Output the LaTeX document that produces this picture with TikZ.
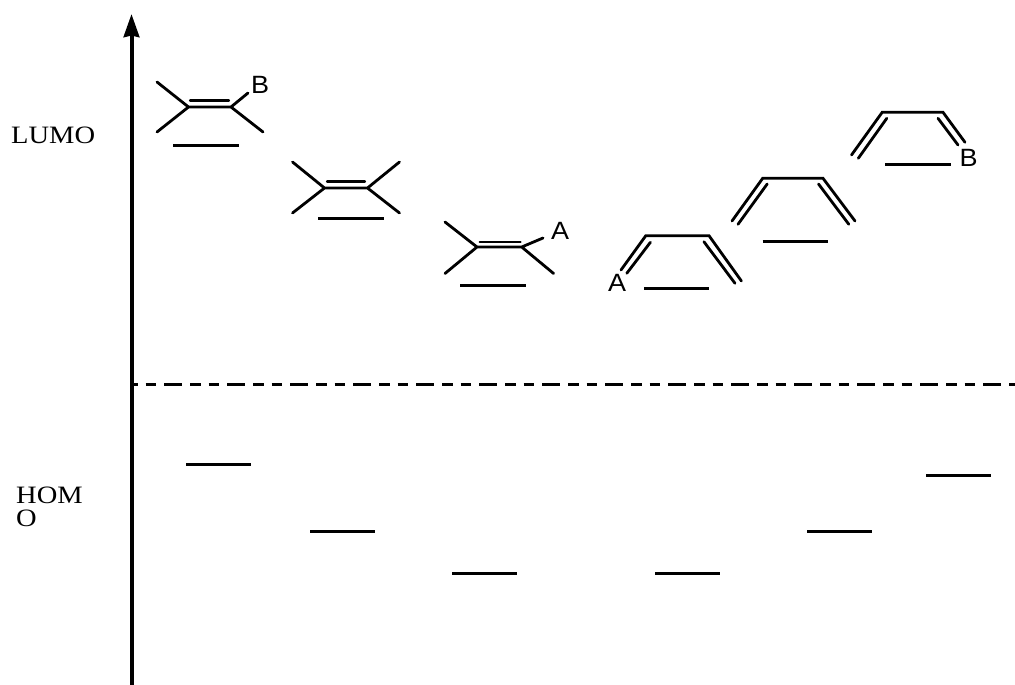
\documentclass[tikz,border=0pt]{standalone}
\usepackage{fontspec}
\setmainfont{Liberation Serif}
\newfontfamily\lsans{Liberation Sans}
\usetikzlibrary{arrows.meta}
\tikzset{
  bond/.style={line width=2.8pt,line cap=round,line join=miter},
  thinbond/.style={line width=2.2pt,line cap=round},
  level/.style={line width=2.8pt},
  axisline/.style={line width=4pt,-{Stealth[length=23pt,width=15.5pt,inset=1.5pt]}},
  dashline/.style={line width=2.8pt,dash pattern=on 10.5pt off 8pt on 10.5pt off 8pt on 18pt off 8pt,dash phase=7pt},
  serif/.style={inner sep=0pt,xscale=1.14,font=\fontsize{25}{23}\selectfont,align=left},
  sub/.style={inner sep=0pt,xscale=1.08,font=\lsans\fontsize{25}{25}\selectfont}
}
\begin{document}
\begin{tikzpicture}[x=1pt,y=-1pt]
\useasboundingbox (0,0) rectangle (1015,685);
\draw[axisline] (131.5,685) -- (131.5,14);
\draw[dashline] (134,384.7) -- (1015,384.7);
% ethylenes
\draw[bond] (157,82) -- (188.5,107) -- (157,132) (188.5,107) -- (231,107) (248,93) -- (231,107) -- (263,132);
\draw[thinbond] (190,100.5) -- (229,100.5);
\draw[bond] (292.5,162) -- (324.5,188) -- (292.5,213) (324.5,188) -- (367.5,188) (399.5,162) -- (367.5,188) -- (399.5,213);
\draw[thinbond] (327,181.5) -- (365,181.5);
\draw[bond] (445,222) -- (477,247) -- (445,273.5) (477,247) -- (521.7,247) (543,238) -- (521.7,247) -- (553.6,273.5);
\draw[thinbond] (479.6,241.7) -- (520.6,241.7);
% dienes
\draw[bond] (621,270) -- (645.8,235.7) -- (709,235.7) -- (741.4,281) (650.4,242.3) -- (626.8,273.3) (703.9,241.7) -- (735,283.3);
\draw[bond] (732,221) -- (762.7,178.3) -- (823,178.3) -- (855,221) (767.2,184) -- (738,224.3) (818.5,184) -- (848.8,224.3);
\draw[bond] (851.5,155) -- (882.2,112.3) -- (943,112.3) -- (965,142.3) (886.8,118.3) -- (858.3,158.3) (938,118.3) -- (958,145);
% levels
\draw[level] (173,145.7) -- (239,145.7) (318,218.7) -- (384,218.7) (460,285.7) -- (526,285.7) (644,288.7) -- (709,288.7) (762.7,241.7) -- (828,241.7) (885,164.7) -- (950.5,164.7);
\draw[level] (186,464.7) -- (251,464.7) (310,531.7) -- (375,531.7) (452,573.7) -- (517,573.7) (655,573.7) -- (720,573.7) (807,531.7) -- (872,531.7) (926,475.7) -- (991,475.7);
% labels
\node[serif,anchor=base west] (lumo) at (11,143) {LUMO};
\node[serif,anchor=north west] (homo) at (16,487) {HOM\\O};
\node[sub,anchor=base west] (b1) at (251,93) {B};
\node[sub,anchor=base west] (a1) at (551,239) {A};
\node[sub,anchor=base west] (a2) at (608,291) {A};
\node[sub,anchor=base west] (b2) at (959.5,166) {B};
\end{tikzpicture}
\end{document}
